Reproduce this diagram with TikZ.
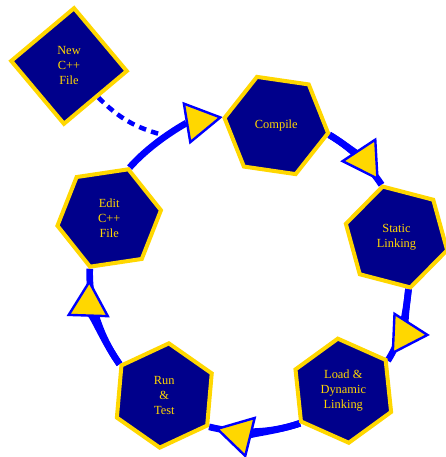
\documentclass[tikz,border=0pt]{standalone}
\usepackage{fontspec}
\setmainfont{Liberation Serif}
\usetikzlibrary{shapes.geometric,arrows.meta,backgrounds}
\definecolor{navyfill}{RGB}{0,0,139}
\definecolor{goldline}{RGB}{255,215,0}
\definecolor{edgeblue}{RGB}{0,0,255}
\begin{document}
\begin{tikzpicture}[x=0.75pt,y=0.75pt,
  hexnode/.style={regular polygon, regular polygon sides=6, minimum size=78.5pt, inner sep=0pt,
    draw=goldline, line width=3pt, fill=navyfill, text=goldline,
    font=\fontsize{9.3}{11.25}\selectfont, align=center},
  squarenode/.style={hexnode, regular polygon sides=4, minimum size=87pt},
  edgeline/.style={draw=edgeblue, line width=5pt},
  arrowedge/.style={edgeline, -{Triangle[length=28pt,width=32pt,fill=goldline,line width=1.8pt]}},
  dashededge/.style={draw=edgeblue, line width=3.4pt, dash pattern=on 5.5pt off 4pt}]
\useasboundingbox (0,0) rectangle (446,457);
\node[squarenode, shape border rotate=40] (new) at (69,391) {New\\C++\\File};
\node[hexnode, shape border rotate=51.7] (compile) at (276.3,331.5) {Compile};
\node[hexnode, shape border rotate=45.4] (static) at (396.5,220) {Static\\Linking};
\node[hexnode, shape border rotate=36] (load) at (343.3,66.3) {Load \&\\Dynamic\\Linking};
\node[hexnode, shape border rotate=25] (run) at (164.3,61.5) {Run\\\&\\Test};
\node[hexnode, shape border rotate=8.5] (edit) at (109.2,239) {Edit\\C++\\File};
\coordinate (merge) at (163,322);
\begin{scope}[on background layer]
  % Edit -> Compile
  \draw[arrowedge] (edit.68.6) to[out=48.4, in=189.4, looseness=0.877] (compile.171);
  % Compile -> Static
  \draw[edgeline] (compile.-10) to[out=-30.7, in=123.3, looseness=0.86] (static.106);
  \draw[arrowedge, shorten >=3.75pt] (compile.-10) to[out=-30.7, in=123.3, looseness=0.86] (static.106);
  % Static -> Load
  \draw[edgeline] (static.-77.5) to[out=-96.3, in=57.4, looseness=0.9] (load.34.7);
  \draw[arrowedge, shorten >=5.25pt] (static.-77.5) to[out=-96.3, in=57.4, looseness=0.9] (load.34.7);
  % Load -> Run
  \draw[edgeline] (load.-143.3) to[out=-161.2, in=-13.9, looseness=0.87] (run.-35.2);
  \draw[arrowedge, shorten >=4.5pt] (load.-143.3) to[out=-161.2, in=-13.9, looseness=0.87] (run.-35.2);
  % Run -> Edit
  \draw[edgeline] (run.145.9) to[out=125.3, in=268.2, looseness=0.875] (edit.-111.3);
  \draw[arrowedge, shorten >=8pt] (run.145.9) to[out=125.3, in=268.2, looseness=0.875] (edit.-111.3);
  % New -> Compile (dashed)
  \draw[dashededge] (new.-47.6) to[out=-45, in=165] (merge);
\end{scope}
\end{tikzpicture}
\end{document}
